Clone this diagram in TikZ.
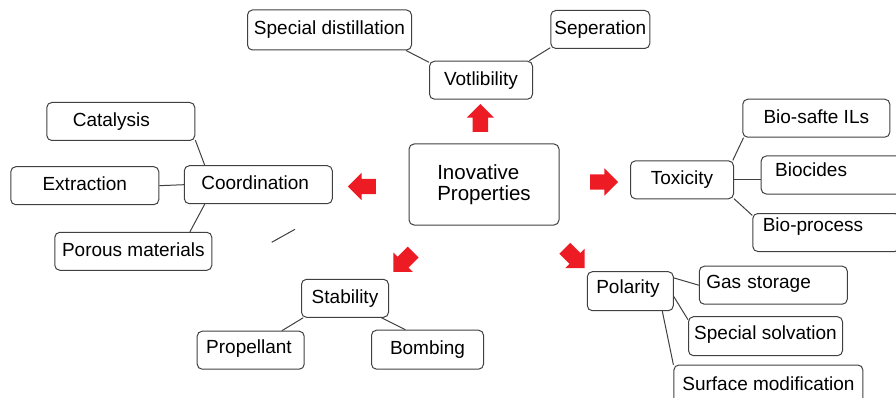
\documentclass[tikz,border=0pt]{standalone}
\usepackage{fontspec}
\setmainfont{Liberation Sans}
\usetikzlibrary{shapes.arrows}
\definecolor{arrowred}{RGB}{237,28,36}
\definecolor{edgegray}{RGB}{64,64,64}

\begin{document}
\begin{tikzpicture}[x=1pt, y=-1pt,
    box/.style={draw=edgegray, line width=1pt, rounded corners=5pt,
    minimum height=38pt, inner sep=0pt, text height=14pt, text depth=4pt,
    font=\fontsize{19}{22}\selectfont},
    hub/.style={draw=edgegray, line width=1pt, rounded corners=5pt,
    minimum width=150pt, minimum height=81pt, align=left,
    font=\fontsize{20.5}{21}\selectfont},
    lpad/.style 2 args={inner xsep=#1, text width=#2, align=left},
    lift/.style={text depth=#1},
    bigarrow/.style={single arrow, fill=arrowred, draw=none, inner xsep=0pt,
    inner ysep=7.5pt, minimum height=28pt, single arrow head extend=6pt},
    link/.style={draw=edgegray, line width=1pt}
    ]
    \useasboundingbox (0,0) rectangle (896,398);
    \clip (0,0) rectangle (896,398);

    \node[hub] (inno) at (484,184.5) {Inovative\\Properties};

    \node[bigarrow, rotate=90] (arrup) at (480.3,121.8) {};
    \node[bigarrow, rotate=180] (arrleft) at (365.7,186.5) {};
    \node[bigarrow] (arrright) at (600.3,182) {};
    \node[bigarrow, rotate=225] (arrdl) at (406,259.3) {};
    \node[bigarrow, rotate=-45] (arrdr) at (572,255.5) {};

    \node[box, minimum width=103pt] (votl) at (481,80.2) {Votlibility};
    \node[box, minimum width=164pt, minimum height=40pt] (sdist) at (329.5,30) {Special distillation};
    \node[box, minimum width=99pt] (sep) at (600.3,29.5) {Seperation};

    \node[box, lpad={17pt}{114pt}] (coord) at (258.3,184.7) {Coordination};
    \node[box, lpad={26pt}{96pt}] (cat) at (120.8,121.5) {Catalysis};
    \node[box, minimum width=148pt] (extr) at (84.8,185.7) {Extraction};
    \node[box, minimum width=157pt] (por) at (133.3,251.3) {Porous materials};

    \node[box, minimum width=103pt] (tox) at (682,179.8) {Toxicity};
    \node[box, minimum width=147pt] (safe) at (816.3,118.2) {Bio-safte ILs};
    \node[box, lpad={14pt}{116pt}, lift=10pt] (bcid) at (833.2,175) {Biocides};
    \node[box, lpad={10pt}{127pt}, lift=16pt] (bproc) at (826.3,232.5) {Bio-process};

    \node[box, lpad={9pt}{68pt}, lift=9pt, minimum height=39pt] (pol) at (630.3,291.2) {Polarity};
    \node[box, lpad={7pt}{134pt}, lift=8pt] (gas) at (773.3,285.2) {Gas storage};
    \node[box, minimum width=154pt, minimum height=39pt, lift=7pt] (solv) at (765.5,336.2) {Special solvation};
    \node[box, minimum width=189pt, minimum height=40pt] (surf) at (768.4,385) {Surface modification};

    \node[box, minimum width=87pt] (stab) at (345,298.3) {Stability};
    \node[box, lpad={9pt}{89pt}, lift=7pt] (prop) at (250.7,350.2) {Propellant};
    \node[box, minimum width=112pt, minimum height=39pt] (bomb) at (427.5,349.7) {Bombing};

    \draw[link] (votl.161) -- (sdist.-15);
    \draw[link] (votl.22) -- (sep.200);
    \draw[link] (coord.160) -- (cat.-14);
    \draw[link] (coord.west) -- (extr.east);
    \draw[link] (coord.200) -- (por.19);
    \draw[link] (tox.21) -- (safe.195);
    \draw[link] (tox.east) -- (tox.east -| bcid.west);
    \draw[link] (tox.-20) -- (bproc.167);
    \draw[link] (pol.17) -- (gas.west);
    \draw[link] (pol.-7) -- (solv.168);
    \draw[link] (pol.-32) -- (surf.168);
    \draw[link] (stab.205) -- (prop.32);
    \draw[link] (stab.-28) -- (bomb.138);

    \coordinate (stray1) at (271.7,242.3);
    \coordinate (stray2) at (295,229.3);
    \draw[link] (stray1) -- (stray2);
\end{tikzpicture}
\end{document}
